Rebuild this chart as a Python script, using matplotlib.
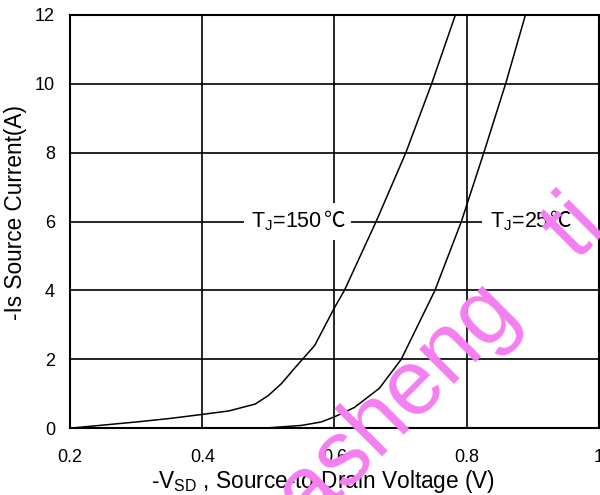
import matplotlib
matplotlib.use("Agg")
import matplotlib.pyplot as plt

plt.rcParams['font.family'] = ['Liberation Sans', 'DejaVu Sans']
plt.rcParams['mathtext.fontset'] = 'custom'
plt.rcParams['mathtext.rm'] = 'Liberation Sans'
plt.rcParams['mathtext.it'] = 'Liberation Sans'
plt.rcParams['mathtext.default'] = 'regular'

# Tj = 150 C curve
v_150 = [0.2, 0.25, 0.3, 0.35, 0.4, 0.44, 0.46, 0.48, 0.5, 0.52, 0.54,
         0.57, 0.6, 0.615, 0.663, 0.708, 0.747, 0.783]
i_150 = [0.0, 0.09, 0.18, 0.28, 0.4, 0.5, 0.6, 0.7, 0.95, 1.3, 1.75,
         2.4, 3.5, 4.0, 6.0, 8.0, 10.0, 12.0]

# Tj = 25 C curve
v_25 = [0.45, 0.5, 0.55, 0.58, 0.6, 0.63, 0.668, 0.701, 0.752, 0.792,
        0.826, 0.859, 0.889]
i_25 = [0.0, 0.01, 0.08, 0.18, 0.33, 0.6, 1.16, 2.0, 4.0, 6.0,
        8.0, 10.0, 12.0]

x_ticks = [0.2, 0.4, 0.6, 0.8, 1.0]
x_labels = ['0.2', '0.4', '0.6', '0.8', '1']
y_ticks = [0, 2, 4, 6, 8, 10, 12]

fig = plt.figure(figsize=(6, 4.95), dpi=100)
ax = fig.add_axes([0.117, 0.135, 0.881, 0.835])

ax.plot(v_150, i_150, color='black', lw=1.1)
ax.plot(v_25, i_25, color='black', lw=1.1)

ax.set_xlim(0.2, 1.0)
ax.set_ylim(0, 12)
ax.set_xticks(x_ticks)
ax.set_xticklabels(x_labels)
ax.set_yticks(y_ticks)
ax.tick_params(length=0, labelsize=13)
ax.tick_params(axis='x', pad=15)
ax.tick_params(axis='y', pad=11)
ax.grid(True, color='black', lw=1.2)
for s in ax.spines.values():
    s.set_linewidth(1.5)

ax.set_xlabel('-V$_{SD}$ , Source-to-Drain Voltage (V)', fontsize=16.3)
ax.xaxis.set_label_coords(0.479, -0.097)
ax.set_ylabel('-Is Source Current(A)', fontsize=16.3)
ax.yaxis.set_label_coords(-0.081, 0.523)

# white backing box (placeholder 'W's reserve room for the degree sign),
# then the black label, then the degree sign in a CJK font
box = dict(facecolor='white', edgecolor='none', boxstyle='square,pad=0.35')
for x0, lab, room in [(0.474, 'T$_J$=150', 'W'), (0.835, 'T$_J$=25', 'WW')]:
    ax.text(x0, 6, lab + room, fontsize=15.5, color='white',
            ha='left', va='center', bbox=box)
    t = ax.text(x0, 6, lab, fontsize=15.5, ha='left', va='center')
    ax.annotate('\u2103', xy=(1, 1), xycoords=t, xytext=(1, 0),
                textcoords='offset points', ha='left', va='top',
                fontsize=15.5, family=['Noto Sans CJK SC', 'DejaVu Sans'],
                fontweight='light')

fig.text(0.737, 0.269, 'asheng   ti', fontsize=66, color='#f47ef0',
         rotation=45, ha='center', va='center', rotation_mode='anchor')

fig.savefig('out.png')
